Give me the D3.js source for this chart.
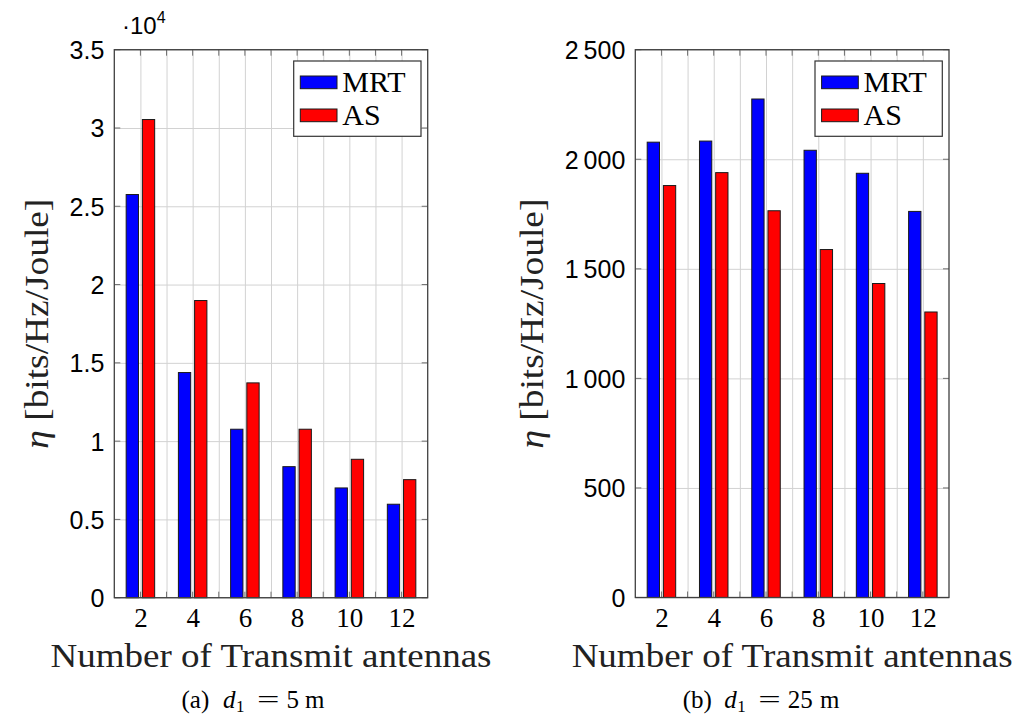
<!DOCTYPE html>
<html>
<head>
<meta charset="utf-8">
<script src="https://cdn.jsdelivr.net/npm/d3@7"></script>
<style>
  html, body { margin: 0; padding: 0; background: #fff; }
  svg { display: block; }
  .serif { font-family: "Liberation Serif", "Times New Roman", serif; }
  .sans { font-family: "Liberation Sans", Arial, sans-serif; }
</style>
</head>
<body>
<svg id="chart" width="1019" height="718"></svg>
<script>
// Energy efficiency vs. number of transmit antennas, two transmitter distances
const antennas = [2, 4, 6, 8, 10, 12];
const seriesNames = ["MRT", "AS"];

// d1 = 5 m (axis shown in units of 10^4)
const mrtNear = [25750, 14380, 10760, 8370, 7010, 5970];
const asNear  = [30540, 18980, 13720, 10760, 8840, 7540];
const nearTicks = [0, 5000, 10000, 15000, 20000, 25000, 30000, 35000];
const nearTickLabels = ["0", "0.5", "1", "1.5", "2", "2.5", "3", "3.5"];

// d1 = 25 m
const mrtFar = [2078, 2083, 2275, 2041, 1936, 1762];
const asFar  = [1880, 1939, 1765, 1588, 1433, 1303];
const farTicks = [0, 500, 1000, 1500, 2000, 2500];
const farTickLabels = ["0", "500", "1\u2009000", "1\u2009500", "2\u2009000", "2\u2009500"];

const colors = ["#0000ff", "#ff0000"];

const svg = d3.select("#chart");

function drawPanel(cfg) {
  const g = svg.append("g");
  const x = d3.scaleLinear().domain([1, 13]).range([cfg.left, cfg.right]);
  const y = d3.scaleLinear().domain([0, cfg.yMax]).range([cfg.bottom, cfg.top]);
  const w = cfg.right - cfg.left, h = cfg.bottom - cfg.top;
  const gridX = d3.range(2, 13);

  // grid
  g.append("g")
    .attr("transform", `translate(0,${cfg.bottom})`)
    .call(d3.axisBottom(x).tickValues(gridX).tickSize(-h).tickFormat(""))
    .call(a => a.select(".domain").remove())
    .call(a => a.selectAll("line").attr("stroke", "#d2d2d2").attr("stroke-width", 1));
  g.append("g")
    .attr("transform", `translate(${cfg.left},0)`)
    .call(d3.axisLeft(y).tickValues(cfg.ticks).tickSize(-w).tickFormat(""))
    .call(a => a.select(".domain").remove())
    .call(a => a.selectAll("line").attr("stroke", "#d2d2d2").attr("stroke-width", 1));

  // inward tick marks on all four sides
  const tk = 6;
  const tickG = g.append("g").attr("stroke", "#707070").attr("stroke-width", 1);
  gridX.forEach(v => {
    tickG.append("line").attr("x1", x(v)).attr("x2", x(v)).attr("y1", cfg.bottom).attr("y2", cfg.bottom - tk);
    tickG.append("line").attr("x1", x(v)).attr("x2", x(v)).attr("y1", cfg.top).attr("y2", cfg.top + tk);
  });
  cfg.ticks.forEach(v => {
    tickG.append("line").attr("x1", cfg.left).attr("x2", cfg.left + tk).attr("y1", y(v)).attr("y2", y(v));
    tickG.append("line").attr("x1", cfg.right).attr("x2", cfg.right - tk).attr("y1", y(v)).attr("y2", y(v));
  });

  // bars
  const bw = 12.3, shift = 8.1;
  cfg.series.forEach((vals, si) => {
    const off = si === 0 ? -shift : shift;
    g.append("g").selectAll("rect")
      .data(vals.map((v, i) => ({ k: antennas[i], v })))
      .join("rect")
      .attr("x", d => x(d.k) + off - bw / 2)
      .attr("y", d => y(d.v))
      .attr("width", bw)
      .attr("height", d => y(0) - y(d.v))
      .attr("fill", colors[si])
      .attr("stroke", "#1a1a1a")
      .attr("stroke-width", 1);
  });

  // frame
  g.append("rect")
    .attr("x", cfg.left).attr("y", cfg.top).attr("width", w).attr("height", h)
    .attr("fill", "none").attr("stroke", "#404040").attr("stroke-width", 1.3);

  // y tick labels
  g.append("g")
    .attr("transform", `translate(${cfg.left},0)`)
    .call(d3.axisLeft(y).tickValues(cfg.ticks).tickSize(0).tickPadding(10)
      .tickFormat((d, i) => cfg.tickLabels[i]))
    .call(a => a.select(".domain").remove())
    .call(a => a.attr("font-family", null).attr("font-size", null))
    .call(a => a.selectAll("text").attr("class", "sans").style("font-size", "25px")
      .attr("fill", "#000").attr("dy", "0.36em"));

  // x tick labels
  g.append("g")
    .attr("transform", `translate(0,${cfg.bottom})`)
    .call(d3.axisBottom(x).tickValues(antennas).tickSize(0).tickPadding(0).tickFormat(d3.format("d")))
    .call(a => a.select(".domain").remove())
    .call(a => a.attr("font-family", null).attr("font-size", null))
    .call(a => a.selectAll("text").attr("class", "serif").style("font-size", "27px")
      .attr("fill", "#000").attr("dy", null).attr("y", 29));

  // axis titles
  g.append("text")
    .attr("class", "serif")
    .attr("x", (cfg.left + cfg.right) / 2).attr("y", 667)
    .attr("text-anchor", "middle")
    .style("font-size", "33px").attr("fill", "#222")
    .attr("textLength", 441).attr("lengthAdjust", "spacingAndGlyphs")
    .text("Number of Transmit antennas");

  const yl = g.append("text")
    .attr("class", "serif")
    .attr("transform", `translate(${cfg.yLabelX},${(cfg.top + cfg.bottom) / 2}) rotate(-90)`)
    .attr("text-anchor", "middle")
    .style("font-size", "33px").attr("fill", "#222")
    .attr("textLength", 250).attr("lengthAdjust", "spacingAndGlyphs");
  yl.append("tspan").attr("font-style", "italic").text("\u03b7");
  yl.append("tspan").text(" [bits/Hz/Joule]");

  // legend
  const lx = cfg.right - 6.7 - 127.3, ly = cfg.top + 11.3;
  const lg = g.append("g");
  lg.append("rect").attr("x", lx).attr("y", ly).attr("width", 127.3).attr("height", 75.3)
    .attr("fill", "#fff").attr("stroke", "#333").attr("stroke-width", 1.2);
  seriesNames.forEach((name, i) => {
    const cy = ly + 21.3 + i * 33;
    lg.append("rect").attr("x", lx + 6.6).attr("y", cy - 6.3).attr("width", 36.7).attr("height", 12.7)
      .attr("fill", colors[i]).attr("stroke", "#1a1a1a").attr("stroke-width", 1);
    lg.append("text").attr("class", "serif").attr("x", lx + 48.6).attr("y", cy + 9.3)
      .style("font-size", "30px").attr("fill", "#000").text(name);
  });

  // caption
  const cx = cfg.captionX, cyb = 708;
  const cap = g.append("g").attr("class", "serif").style("font-size", "25px").attr("fill", "#000");
  cap.append("text").attr("x", cx).attr("y", cyb).text(cfg.captionTag);
  cap.append("text").attr("x", cx + 41.6).attr("y", cyb).attr("font-style", "italic").text("d");
  cap.append("text").attr("x", cx + 54.5).attr("y", cyb + 4).style("font-size", "17px").text("1");
  cap.append("text").attr("x", cx + 75.6).attr("y", cyb)
    .attr("textLength", 22.5).attr("lengthAdjust", "spacingAndGlyphs").text("=");
  cap.append("text").attr("x", cx + 105).attr("y", cyb).text(cfg.captionDist);
  cap.append("text").attr("x", cx + cfg.unitOffset).attr("y", cyb).text("m");

  return { x, y };
}

drawPanel({
  left: 114.3, right: 427.7, top: 49.7, bottom: 597.7,
  yMax: 35000, ticks: nearTicks, tickLabels: nearTickLabels,
  series: [mrtNear, asNear], yLabelX: 48,
  captionX: 181.5, captionTag: "(a)", captionDist: "5", unitOffset: 123.5
});

// scale factor shown above the left axis
const sf = svg.append("text").attr("class", "sans").attr("x", 122).attr("y", 33.5)
  .style("font-size", "24px").attr("fill", "#000");
sf.append("tspan").text("\u00b710");
sf.append("tspan").style("font-size", "16px").attr("dy", -11).text("4");

drawPanel({
  left: 635.3, right: 949, top: 49.7, bottom: 597.5,
  yMax: 2500, ticks: farTicks, tickLabels: farTickLabels,
  series: [mrtFar, asFar], yLabelX: 543,
  captionX: 682.7, captionTag: "(b)", captionDist: "25", unitOffset: 137.3
});
</script>
</body>
</html>
